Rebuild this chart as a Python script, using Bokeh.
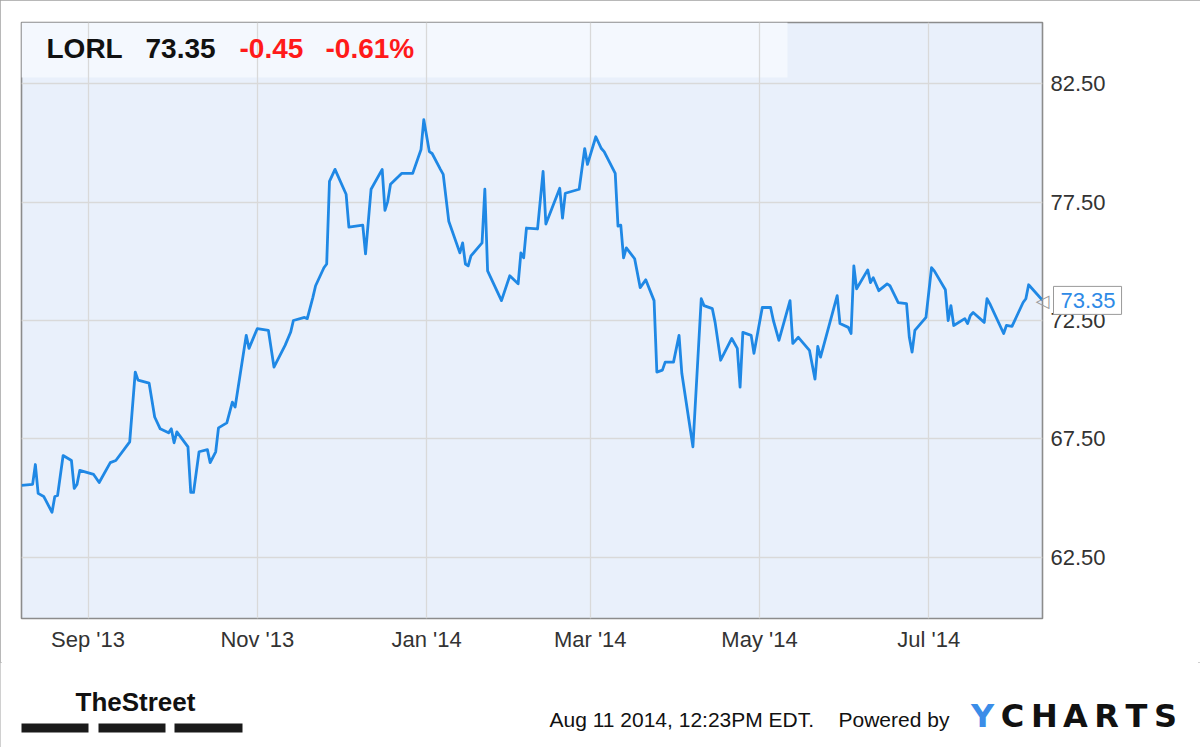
import pandas as pd
from bokeh.plotting import figure
from bokeh.layouts import column
from bokeh.models import (ColumnDataSource, Range1d, FixedTicker, DatetimeTickFormatter,
                          PrintfTickFormatter, Label, BoxAnnotation)
from bokeh.core.properties import value
from bokeh.embed import file_html
from bokeh.resources import INLINE

# ---------------- data ----------------
symbol = "LORL"
last_price = 73.35
change_abs = "-0.45"
change_pct = "-0.61%"
stamp_text = "Aug 11 2014, 12:23PM EDT."
powered_text = "Powered by"
brand_letters = ["Y", "C", "H", "A", "R", "T", "S"]
street_text = "TheStreet"

dates = [
    "2013-08-08", "2013-08-12", "2013-08-13", "2013-08-14", "2013-08-16", "2013-08-19",
    "2013-08-20", "2013-08-21", "2013-08-23", "2013-08-26", "2013-08-27", "2013-08-28",
    "2013-08-29", "2013-09-03", "2013-09-05", "2013-09-09", "2013-09-11", "2013-09-16",
    "2013-09-18", "2013-09-19", "2013-09-23", "2013-09-25", "2013-09-27", "2013-09-30",
    "2013-10-01", "2013-10-02", "2013-10-03", "2013-10-07", "2013-10-08", "2013-10-09",
    "2013-10-11", "2013-10-14", "2013-10-15", "2013-10-17", "2013-10-18", "2013-10-21",
    "2013-10-23", "2013-10-24", "2013-10-28", "2013-10-29", "2013-11-01", "2013-11-05",
    "2013-11-07", "2013-11-11", "2013-11-13", "2013-11-14", "2013-11-18", "2013-11-19",
    "2013-11-21", "2013-11-22", "2013-11-25", "2013-11-26", "2013-11-27", "2013-11-29",
    "2013-12-03", "2013-12-04", "2013-12-09", "2013-12-10", "2013-12-12", "2013-12-16",
    "2013-12-17", "2013-12-18", "2013-12-19", "2013-12-23", "2013-12-27", "2013-12-30",
    "2013-12-31", "2014-01-02", "2014-01-03", "2014-01-06", "2014-01-07", "2014-01-09",
    "2014-01-13", "2014-01-14", "2014-01-15", "2014-01-16", "2014-01-17", "2014-01-21",
    "2014-01-22", "2014-01-23", "2014-01-28", "2014-01-31", "2014-02-03", "2014-02-04",
    "2014-02-05", "2014-02-06", "2014-02-10", "2014-02-12", "2014-02-13", "2014-02-18",
    "2014-02-19", "2014-02-20", "2014-02-25", "2014-02-27", "2014-02-28", "2014-03-03",
    "2014-03-05", "2014-03-06", "2014-03-10", "2014-03-11", "2014-03-12", "2014-03-13",
    "2014-03-14", "2014-03-17", "2014-03-19", "2014-03-21", "2014-03-24", "2014-03-25",
    "2014-03-27", "2014-03-28", "2014-03-31", "2014-04-02", "2014-04-03", "2014-04-07",
    "2014-04-10", "2014-04-11", "2014-04-14", "2014-04-15", "2014-04-17", "2014-04-21",
    "2014-04-23", "2014-04-24", "2014-04-25", "2014-04-28", "2014-04-29", "2014-05-02",
    "2014-05-05", "2014-05-06", "2014-05-08", "2014-05-12", "2014-05-13", "2014-05-15",
    "2014-05-19", "2014-05-21", "2014-05-22", "2014-05-23", "2014-05-29", "2014-05-30",
    "2014-06-02", "2014-06-03", "2014-06-04", "2014-06-05", "2014-06-09", "2014-06-10",
    "2014-06-11", "2014-06-13", "2014-06-16", "2014-06-17", "2014-06-20", "2014-06-23",
    "2014-06-24", "2014-06-25", "2014-06-26", "2014-06-30", "2014-07-02", "2014-07-03",
    "2014-07-07", "2014-07-08", "2014-07-09", "2014-07-10", "2014-07-14", "2014-07-15",
    "2014-07-16", "2014-07-17", "2014-07-21", "2014-07-22", "2014-07-23", "2014-07-28",
    "2014-07-29", "2014-07-31", "2014-08-04", "2014-08-05", "2014-08-06", "2014-08-11",
]
prices = [
    65.53, 65.57, 66.41, 65.19, 65.06, 64.39,
    65.06, 65.10, 66.79, 66.58, 65.40, 65.57,
    66.16, 65.99, 65.65, 66.49, 66.58, 67.37,
    70.32, 69.98, 69.85, 68.42, 67.92, 67.75,
    67.92, 67.33, 67.79, 67.16, 65.23, 65.23,
    66.95, 67.04, 66.49, 66.95, 67.96, 68.17,
    69.05, 68.84, 71.87, 71.32, 72.16, 72.08,
    70.53, 71.45, 72.00, 72.50, 72.63, 72.58,
    73.47, 73.97, 74.73, 74.89, 78.38, 78.89,
    77.84, 76.45, 76.53, 75.32, 78.05, 78.89,
    77.16, 77.54, 78.26, 78.72, 78.72, 79.73,
    80.99, 79.64, 79.56, 78.89, 78.68, 76.70,
    75.36, 75.78, 74.89, 74.81, 75.23, 75.78,
    78.05, 74.60, 73.34, 74.39, 74.05, 75.36,
    75.15, 76.41, 76.37, 78.80, 76.58, 78.09,
    76.83, 77.88, 78.05, 79.77, 79.10, 80.27,
    79.77, 79.64, 78.72, 76.49, 76.53, 75.15,
    75.57, 75.11, 73.89, 74.22, 73.34, 70.32,
    70.40, 70.74, 70.74, 71.87, 70.27, 67.16,
    73.42, 73.13, 73.00, 72.42, 70.82, 71.74,
    71.32, 69.68, 72.00, 71.87, 71.11, 73.05,
    73.05, 72.50, 71.66, 73.34, 71.53, 71.79,
    71.24, 70.02, 71.41, 70.95, 73.55, 72.37,
    72.21, 71.95, 74.81, 73.84, 74.64, 74.10,
    74.31, 73.76, 74.05, 73.97, 73.26, 73.21,
    71.79, 71.16, 72.08, 72.63, 74.73, 74.60,
    73.80, 72.50, 73.13, 72.29, 72.58, 72.37,
    72.71, 72.84, 72.42, 73.42, 73.21, 71.95,
    72.29, 72.25, 73.26, 73.42, 74.01, 73.35,
]

x_tick_dates = ["2013-09-01", "2013-11-01", "2014-01-01", "2014-03-01", "2014-05-01", "2014-07-01"]
y_ticks = [62.5, 67.5, 72.5, 77.5, 82.5]
x_start, x_end = "2013-08-08", "2014-08-11"
y_start, y_end = 59.9, 85.1

# ---------------- layout helpers ----------------
def ms(d):
    return pd.Timestamp(d).value / 1e6

FONT = "Liberation Sans"
W, H_MAIN, H_FOOT = 1200, 662, 85
FL, FT, FR, FB = 21, 22, 1042, 618    # plot frame edges in page pixels
BASE_FIX = 0.36                        # renderer draws 'alphabetic' text this many em low


def sx(wx):
    return wx - FL


def sy(wy):
    return FB - wy


# ---------------- main chart ----------------
p = figure(width=W, height=H_MAIN, x_axis_type="datetime", y_axis_location="right",
           x_range=Range1d(ms(x_start), ms(x_end)), y_range=Range1d(y_start, y_end),
           output_backend="svg", toolbar_location=None,
           min_border_left=FL, min_border_right=W - FR, min_border_top=FT,
           min_border_bottom=H_MAIN - FB)
p.frame_align = False

p.background_fill_color = "#e9f0fb"
p.border_fill_color = "white"
p.outline_line_color = "#8c8c8c"
p.outline_line_width = 1.6

src = ColumnDataSource(dict(date=pd.to_datetime(dates), price=prices))
p.line(x="date", y="price", source=src, line_color="#1f88e5", line_width=2.8, line_join="round")

p.xaxis.ticker = FixedTicker(ticks=[ms(d) for d in x_tick_dates])
fmt = "%b '%y"
p.xaxis.formatter = DatetimeTickFormatter(days=fmt, months=fmt, years=fmt)
p.yaxis.ticker = FixedTicker(ticks=y_ticks)
p.yaxis.formatter = PrintfTickFormatter(format="%.2f")
for ax in (p.xaxis[0], p.yaxis[0]):
    ax.axis_line_color = None
    ax.major_tick_line_color = None
    ax.minor_tick_line_color = None
    ax.major_label_text_font = FONT
    ax.major_label_text_font_size = "22px"
    ax.major_label_text_color = "#333333"
p.xaxis.major_label_standoff = 2
p.yaxis.major_label_standoff = 2

p.xgrid.grid_line_color = "#d9d9d9"
p.ygrid.grid_line_color = "#d9d9d9"
p.xgrid.grid_line_width = 1.3
p.ygrid.grid_line_width = 1.3

# header band
p.add_layout(BoxAnnotation(left=sx(21), right=sx(787), top=sy(22), bottom=sy(77),
                           left_units="screen", right_units="screen",
                           top_units="screen", bottom_units="screen",
                           fill_color="#f4f8fe", fill_alpha=1.0, line_color=None, level="image"))


def hdr(text, wx, wy, color, size=28):
    p.add_layout(Label(x=sx(wx), y=sy(wy - BASE_FIX * size), x_units="screen", y_units="screen",
                       text=text, text_font=FONT, text_font_size=f"{size}px", text_color=color,
                       text_font_style="bold", text_align="left", text_baseline="alphabetic"))


hdr(symbol, 46, 58, "#111111")
hdr(f"{last_price:.2f}", 145, 58, "#111111")
hdr(change_abs, 239, 58, "#ff1a1a")
hdr(change_pct, 325, 58, "#ff1a1a")

# last price callout (lives in the right side panel, next to the y axis)
p.add_layout(Label(x=-55, y=last_price, x_units="screen", y_units="data",
                   text=f"{last_price:.2f}", text_font=FONT, text_font_size="22px",
                   text_color="#2e8ae6", text_align="left", text_baseline="middle",
                   background_fill_color="white", border_line_color="#9a9a9a",
                   border_line_width=1, padding=(7, 6, 7, 6)), "right")
# its little pointer towards the last point
p.add_layout(Label(x=-141, y=last_price, x_units="screen", y_units="data",
                   text="\u25c1", text_font="DejaVu Sans", text_font_size="18px",
                   text_color="#9a9a9a", text_align="left", text_baseline="middle"), "right")

# ---------------- footer (page-pixel space) ----------------
f = figure(width=W, height=H_FOOT, x_range=Range1d(0, W), y_range=Range1d(H_MAIN + H_FOOT, H_MAIN),
           output_backend="svg", toolbar_location=None, min_border=0)
f.frame_align = False
f.axis.visible = False
f.grid.visible = False
f.outline_line_color = None
f.background_fill_color = "white"
f.border_fill_color = "white"

f.text(x=[549, 838], y=[727 - BASE_FIX * 21] * 2, text=[stamp_text, powered_text],
       text_font=value(FONT), text_font_size="21px", text_color="#111111",
       text_align="left", text_baseline="alphabetic")
brand_x = [982, 1012, 1044, 1075, 1106, 1136, 1165]
f.text(x=brand_x, y=[728 - 0.38 * 32] * len(brand_x), text=brand_letters,
       text_font=value("DejaVu Sans"), text_font_size="32px", text_font_style="bold",
       text_color=["#3b8de8"] + ["#111111"] * (len(brand_x) - 1),
       text_align="center", text_baseline="alphabetic")
f.text(x=[75], y=[711 - BASE_FIX * 26], text=[street_text], text_font=value(FONT),
       text_font_size="26px", text_font_style="bold", text_color="#111111",
       text_align="left", text_baseline="alphabetic")
f.quad(left=[21, 98, 174], right=[88, 165, 242], top=[723] * 3, bottom=[732] * 3,
       fill_color="#1a1a1a", line_color=None)

layout = column(p, f, spacing=0,
                styles={"outline": "2px solid #a0a0a0", "outline-offset": "-2px"})

open("out.html", "w").write(file_html(layout, INLINE))
